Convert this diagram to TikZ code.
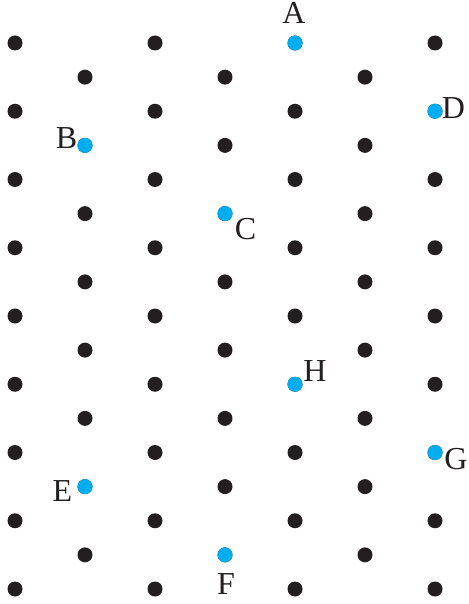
\documentclass[tikz,border=0pt]{standalone}
\usepackage{fontspec}
\setmainfont{Liberation Serif}
\usetikzlibrary{calc}
\definecolor{dotblack}{RGB}{35,31,32}
\definecolor{dotblue}{RGB}{0,174,239}

\begin{document}
\begin{tikzpicture}[x=0.5pt,y=-0.5pt,
  lbl/.style={text=dotblack,font=\fontsize{16}{16}\selectfont,inner sep=0pt}]
\useasboundingbox (0,0) rectangle (469,604);
% lattice
\foreach \j in {0,2,...,16} \foreach \i in {0,...,3} \fill[dotblack] (15+140*\i,43+34.125*\j) circle[radius=3.75pt];
\foreach \j in {1,3,...,15} \foreach \i in {0,...,2} \fill[dotblack] (85+140*\i,43+34.125*\j) circle[radius=3.75pt];
% marked points
\coordinate (A) at (295,43); \coordinate (B) at (85,145.375); \coordinate (C) at (225,213.625); \coordinate (D) at (435,111.25);
\coordinate (E) at (85,486.625); \coordinate (F) at (225,554.875); \coordinate (G) at (435,452.5); \coordinate (H) at (295,384.25);
\foreach \p in {A,...,H} \fill[dotblue] (\p) circle[radius=3.75pt];
\node[lbl] (labA) at ($(A)+(-1,-30.5)$) {A};
\node[lbl] (labB) at ($(B)+(-18.5,-6.9)$) {B};
\node[lbl] (labC) at ($(C)+(20.5,15.9)$) {C};
\node[lbl] (labD) at ($(D)+(18.5,-2.75)$) {D};
\node[lbl] (labE) at ($(E)+(-22.5,4.4)$) {E};
\node[lbl] (labF) at ($(F)+(1,29.6)$) {F};
\node[lbl] (labG) at ($(G)+(21,6.5)$) {G};
\node[lbl] (labH) at ($(H)+(20,-12.75)$) {H};
\end{tikzpicture}
\end{document}
